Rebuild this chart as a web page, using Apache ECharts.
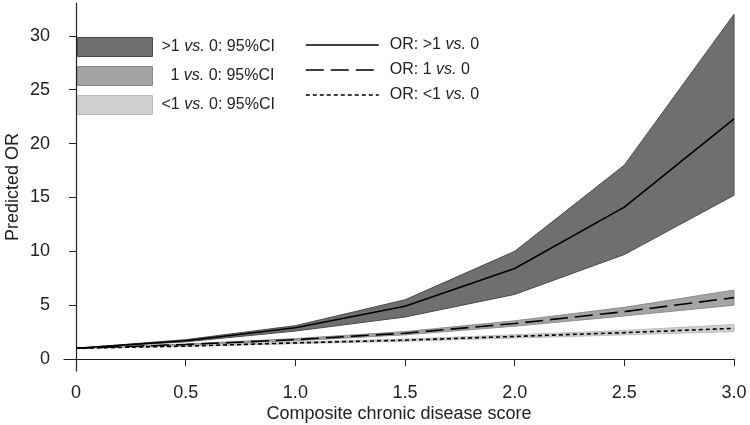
<!DOCTYPE html>
<html>
<head>
<meta charset="utf-8">
<script src="https://cdn.jsdelivr.net/npm/echarts@6/dist/echarts.min.js"></script>
<style>html,body{margin:0;padding:0;background:#fff}#c{width:750px;height:425px}</style>
</head>
<body>
<div id="c"></div>
<script>
// x categories (composite chronic disease score)
var xs = [0, 0.5, 1.0, 1.5, 2.0, 2.5, 3.0];
// >1 vs 0
var orGt1 = [1, 1.7, 2.9, 4.9, 8.4, 14.1, 22.3];
var ciGt1Lo = [1, 1.6, 2.6, 3.9, 6.0, 9.7, 15.2];
var ciGt1Hi = [1, 1.8, 3.1, 5.5, 10.0, 18.0, 32.0];
// 1 vs 0
var orEq1 = [1, 1.35, 1.8, 2.4, 3.3, 4.4, 5.7];
var ciEq1Lo = [1, 1.3, 1.7, 2.25, 3.05, 4.0, 5.0];
var ciEq1Hi = [1, 1.4, 1.9, 2.55, 3.55, 4.8, 6.4];
// <1 vs 0
var orLt1 = [1, 1.2, 1.5, 1.75, 2.1, 2.45, 2.85];
var ciLt1Lo = [1, 1.17, 1.43, 1.65, 1.95, 2.25, 2.55];
var ciLt1Hi = [1, 1.23, 1.57, 1.85, 2.25, 2.65, 3.2];
// tick labels
var xTicks = [0, 0.5, 1.0, 1.5, 2.0, 2.5, 3.0];
var yTicks = [0, 5, 10, 15, 20, 25, 30];

var names = {
  bGt: '>1 vs. 0: 95%CI',
  bEq: '  1 vs. 0: 95%CI',
  bLt: '<1 vs. 0: 95%CI',
  lGt: 'OR: >1 vs. 0',
  lEq: 'OR: 1 vs. 0',
  lLt: 'OR: <1 vs. 0'
};

function pairs(ys) { return xs.map(function (x, i) { return [x, ys[i]]; }); }

var FONT = '"Liberation Sans", Arial, sans-serif';

function band(lo, hi, name, fill, edge) {
  // one data row per x: [x, lower, upper]
  var rows = xs.map(function (x, i) { return [x, lo[i], hi[i]]; });
  return {
    type: 'custom', name: name, silent: true, z: 1,
    itemStyle: { color: fill },
    data: rows,
    encode: { x: 0, y: [1, 2] },
    renderItem: function (params, api) {
      if (params.dataIndex !== 0) return null;
      var pts = [], i;
      for (i = 0; i < rows.length; i++) pts.push(api.coord([rows[i][0], rows[i][2]]));
      for (i = rows.length - 1; i >= 0; i--) pts.push(api.coord([rows[i][0], rows[i][1]]));
      return {
        type: 'polygon',
        shape: { points: pts },
        style: { fill: fill, stroke: edge, lineWidth: 1 }
      };
    }
  };
}

function orLine(data, name, type) {
  return { type: 'line', name: name, data: pairs(data), symbol: 'none', silent: true,
    itemStyle: { color: '#000' },
    lineStyle: { color: '#000', width: 1.6, type: type }, z: 5 };
}

var legendFmt = function (n) { return n.replace('vs.', '{i|vs.}'); };
var legendText = { fontFamily: FONT, fontSize: 16, color: '#222',
  rich: { i: { fontFamily: FONT, fontSize: 16, fontStyle: 'italic', color: '#222' } } };

var option = {
  animation: false,
  backgroundColor: '#fff',
  grid: { left: 64, right: 16, top: 3, bottom: 54, containLabel: false, outerBoundsMode: 'none' },
  legend: [
    { orient: 'vertical', left: 77, top: 37, padding: 0, itemWidth: 75, itemHeight: 19, itemGap: 9,
      formatter: legendFmt, textStyle: Object.assign({ padding: [0, 0, 0, 4] }, legendText),
      selectedMode: false,
      data: [
        { name: names.bGt, icon: 'rect', itemStyle: { color: '#6f6f6f', borderColor: '#4a4a4a', borderWidth: 1 } },
        { name: names.bEq, icon: 'rect', itemStyle: { color: '#a4a4a4', borderColor: '#8a8a8a', borderWidth: 1 } },
        { name: names.bLt, icon: 'rect', itemStyle: { color: '#cfcfcf', borderColor: '#bdbdbd', borderWidth: 1 } }
      ] },
    { orient: 'vertical', left: 305, top: 37, padding: 0, itemWidth: 73, itemHeight: 19, itemGap: 9,
      formatter: legendFmt, textStyle: Object.assign({ padding: [0, 0, 0, 6] }, legendText),
      selectedMode: false,
      data: [
        { name: names.lGt, itemStyle: { opacity: 0 }, lineStyle: { color: '#000', width: 1.6, type: 'solid' } },
        { name: names.lEq, itemStyle: { opacity: 0 }, lineStyle: { color: '#000', width: 1.6, type: [18, 7] } },
        { name: names.lLt, itemStyle: { opacity: 0 }, lineStyle: { color: '#000', width: 1.6, type: [4, 3] } }
      ] }
  ],
  xAxis: {
    type: 'value', min: -0.055, max: 3.0,
    name: 'Composite chronic disease score', nameLocation: 'middle', nameGap: 34, nameMoveOverlap: false,
    nameTextStyle: { fontFamily: FONT, fontSize: 18, color: '#222' },
    axisLine: { show: true, lineStyle: { color: '#222', width: 1.2 } },
    axisTick: { show: true, length: 7, customValues: xTicks, lineStyle: { color: '#222' } },
    axisLabel: { customValues: xTicks, margin: 13, fontFamily: FONT, fontSize: 18, color: '#222',
      formatter: function (v) { return v === 0 ? '0' : v.toFixed(1); } },
    splitLine: { show: false }
  },
  yAxis: {
    type: 'value', min: -1.11, max: 33.05,
    name: 'Predicted OR', nameLocation: 'middle', nameGap: 42, nameRotate: 90, nameMoveOverlap: false,
    nameTextStyle: { fontFamily: FONT, fontSize: 18, color: '#222' },
    axisLine: { show: true, lineStyle: { color: '#222', width: 1.2 } },
    axisTick: { show: true, length: 7, customValues: yTicks, lineStyle: { color: '#222' } },
    axisLabel: { customValues: yTicks, margin: 14, fontFamily: FONT, fontSize: 18, color: '#222' },
    splitLine: { show: false }
  },
  series: [
    band(ciGt1Lo, ciGt1Hi, names.bGt, '#6f6f6f', '#4a4a4a'),
    band(ciEq1Lo, ciEq1Hi, names.bEq, '#a4a4a4', '#8e8e8e'),
    band(ciLt1Lo, ciLt1Hi, names.bLt, '#cfcfcf', '#bdbdbd'),
    orLine(orGt1, names.lGt, 'solid'),
    orLine(orEq1, names.lEq, [18, 7]),
    orLine(orLt1, names.lLt, [4, 3])
  ]
};

var chart = echarts.init(document.getElementById('c'), null, { renderer: 'canvas' });
chart.setOption(option);
</script>
</body>
</html>
